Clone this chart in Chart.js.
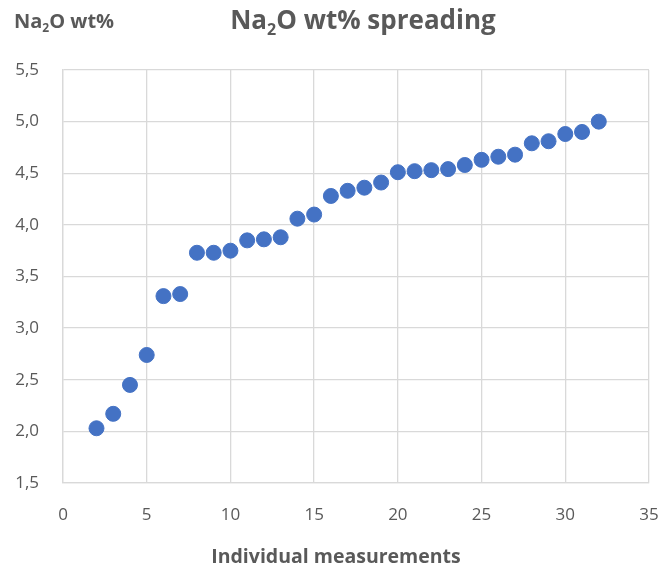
<!DOCTYPE html>
<html lang="en">
<head>
    <meta charset="UTF-8">
    <title>Na2O wt% spreading</title>
    <script src="https://cdn.jsdelivr.net/npm/chart.js"></script>
    <style>
        body { margin: 0; background: #fff; }
    </style>
</head>
<body>
    <canvas id="naChart" width="663" height="567"></canvas>

    <script>
        // Measurement number and Na2O content (wt%)
        const measurements = [2, 3, 4, 5, 6, 7, 8, 9, 10, 11, 12, 13, 14, 15, 16, 17,
            18, 19, 20, 21, 22, 23, 24, 25, 26, 27, 28, 29, 30, 31, 32];
        const na2oValues = [2.03, 2.17, 2.45, 2.74, 3.31, 3.33, 3.73, 3.73, 3.75, 3.85, 3.86, 3.88, 4.06, 4.10, 4.28, 4.33,
            4.36, 4.41, 4.51, 4.52, 4.53, 4.54, 4.58, 4.63, 4.66, 4.68, 4.79, 4.81, 4.88, 4.90, 5.00];
        const xTicks = [0, 5, 10, 15, 20, 25, 30, 35];
        const yTicks = [1.5, 2.0, 2.5, 3.0, 3.5, 4.0, 4.5, 5.0, 5.5];

        const textColor = '#595959';
        const gridColor = '#d9d9d9';
        const fontFamily = '"Open Sans", sans-serif';

        // draws text with every second part as subscript, e.g. ['Na', '2', 'O wt%']
        function drawSubText(ctx, parts, x, y, size, align) {
            const big = `bold ${size}px ${fontFamily}`;
            const small = `bold ${Math.round(size * 0.62)}px ${fontFamily}`;
            const widths = parts.map((p, i) => {
                ctx.font = i % 2 === 1 ? small : big;
                return ctx.measureText(p).width;
            });
            const total = widths.reduce((a, b) => a + b, 0);
            let cx = align === 'center' ? x - total / 2 : x;
            ctx.textBaseline = 'alphabetic';
            ctx.textAlign = 'left';
            parts.forEach((p, i) => {
                ctx.font = i % 2 === 1 ? small : big;
                ctx.fillText(p, cx, i % 2 === 1 ? y + size * 0.22 : y);
                cx += widths[i];
            });
        }

        const labelsPlugin = {
            id: 'labels',
            afterDraw(chart) {
                const ctx = chart.ctx;
                ctx.save();
                ctx.fillStyle = textColor;
                drawSubText(ctx, ['Na', '2', 'O wt% spreading'], 363, 29, 26, 'center');
                drawSubText(ctx, ['Na', '2', 'O wt%'], 14, 28, 20, 'left');
                ctx.font = `bold 19.5px ${fontFamily}`;
                ctx.textAlign = 'center';
                ctx.textBaseline = 'alphabetic';
                ctx.fillText('Individual measurements', 336, 563);
                ctx.restore();
            }
        };

        new Chart(document.getElementById('naChart'), {
            type: 'scatter',
            data: {
                datasets: [{
                    label: 'Na2O wt%',
                    data: measurements.map((m, i) => ({ x: m, y: na2oValues[i] })),
                    backgroundColor: '#4472C4',
                    borderColor: '#4472C4',
                    pointRadius: 7.5,
                    pointHoverRadius: 7.5
                }]
            },
            options: {
                responsive: false,
                animation: false,
                layout: { padding: { top: 70, right: 0, left: 0, bottom: 0 } },
                plugins: {
                    legend: { display: false },
                    tooltip: { enabled: false }
                },
                scales: {
                    x: {
                        type: 'linear',
                        min: 0,
                        max: 35,
                        afterBuildTicks: scale => { scale.ticks = xTicks.map(v => ({ value: v })); },
                        afterFit: scale => {
                            scale.height = 84;
                            scale.paddingLeft = 0;
                            scale.paddingRight = 14;
                        },
                        grid: { color: gridColor, lineWidth: 1.3, drawTicks: false },
                        border: { color: gridColor, width: 1.3 },
                        ticks: {
                            color: textColor,
                            font: { family: fontFamily, size: 17 },
                            padding: 22
                        }
                    },
                    y: {
                        min: 1.5,
                        max: 5.5,
                        afterBuildTicks: scale => { scale.ticks = yTicks.map(v => ({ value: v })); },
                        afterFit: scale => { scale.width = 63; },
                        grid: { color: gridColor, lineWidth: 1.3, drawTicks: false },
                        border: { color: gridColor, width: 1.3 },
                        ticks: {
                            color: textColor,
                            font: { family: fontFamily, size: 17 },
                            padding: 24,
                            callback: v => v.toFixed(1).replace('.', ',')
                        }
                    }
                }
            },
            plugins: [labelsPlugin]
        });
    </script>
</body>
</html>
